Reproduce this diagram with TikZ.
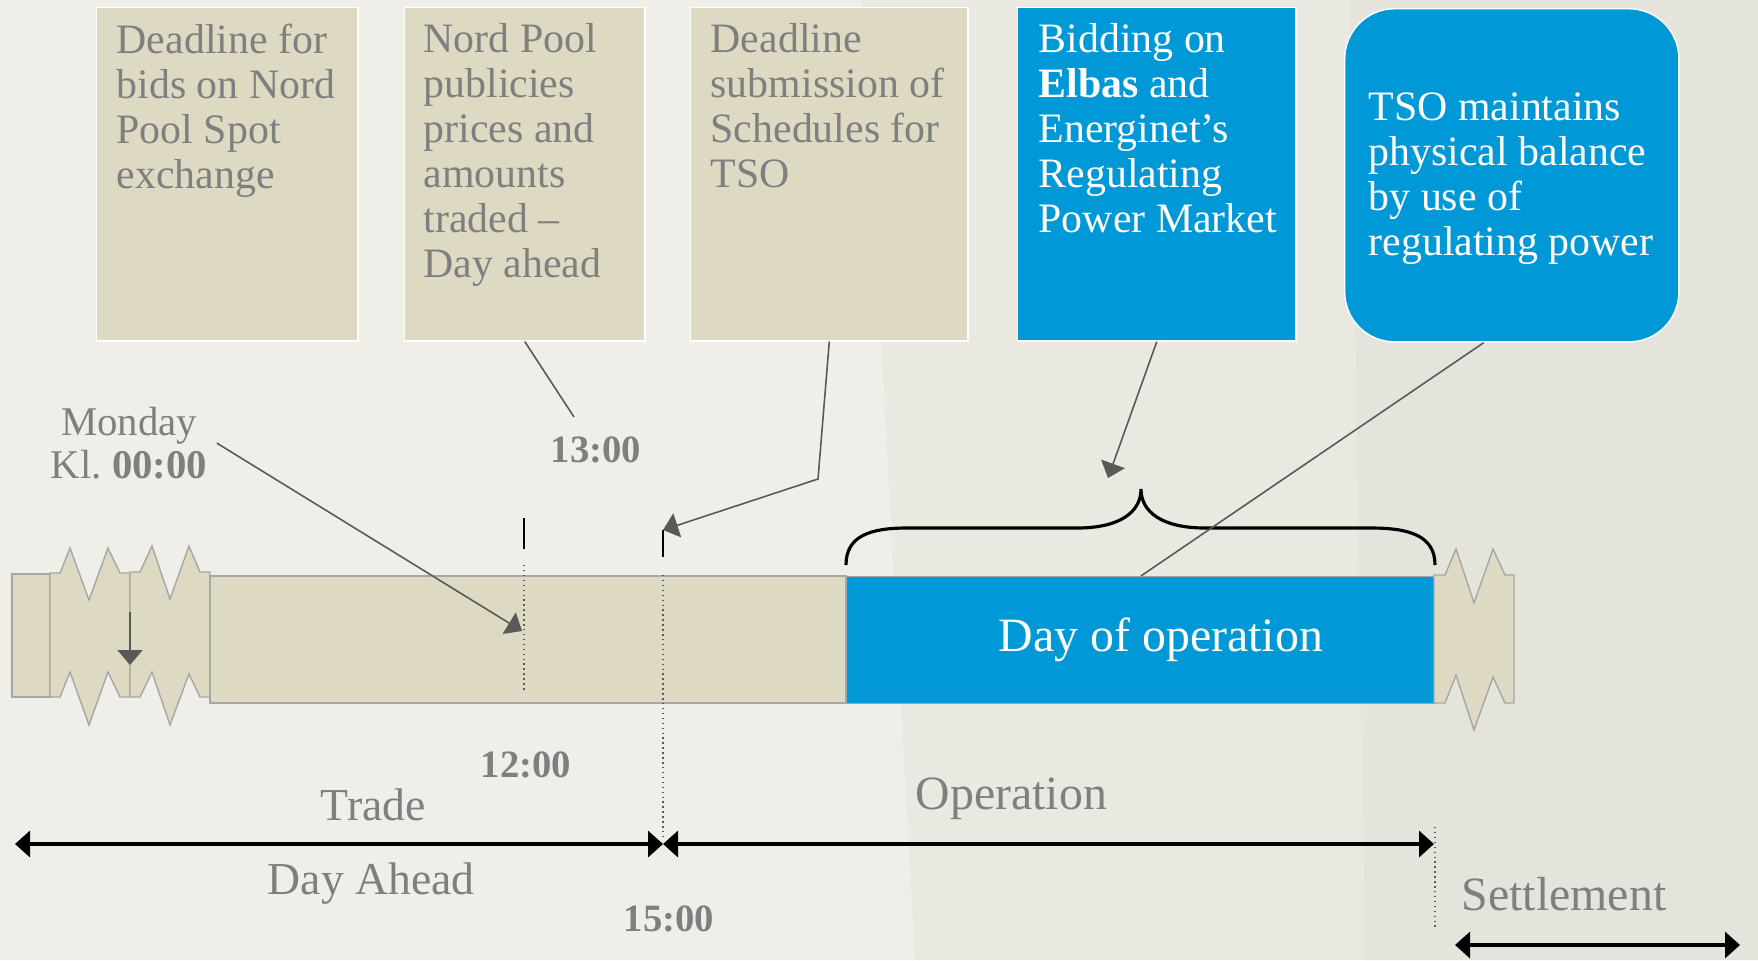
\documentclass[tikz,border=0pt]{standalone}
\usepackage{fontspec}
\setmainfont{Liberation Serif}
\usetikzlibrary{arrows.meta}

\definecolor{boxtan}{HTML}{DDD9C3}
\definecolor{sky}{HTML}{0098D6}
\definecolor{txtgray}{HTML}{7F7F7F}
\definecolor{pointer}{HTML}{595959}
\definecolor{bgleft}{HTML}{EFEEE9}
\definecolor{bgmid}{HTML}{E9E8E1}
\definecolor{bgright}{HTML}{E5E4DC}

\tikzset{
  tanbox/.style = {draw=white, line width=0.4pt, fill=boxtan, anchor=north west,
                   inner sep=0pt, minimum height=3.33cm},
  bluebox/.style = {tanbox, fill=sky},
  boxtext/.style = {anchor=north west, inner sep=0pt, align=left, text=txtgray,
                    font=\fontsize{11.9}{12.8}\selectfont},
  lbl/.style = {inner sep=0pt, anchor=base west, text=txtgray},
  timelbl/.style = {lbl, font=\fontsize{11}{13}\selectfont\bfseries},
  biglbl/.style = {lbl, font=\fontsize{13.6}{16}\selectfont},
  bar/.style = {fill=boxtan, draw=black!35, line width=0.4pt},
  ptr/.style = {draw=pointer, line width=0.45pt, -{Triangle[length=0.15cm,width=0.25cm]}},
  lead/.style = {draw=pointer, line width=0.45pt},
  span/.style = {line width=1pt,
                 {Triangle[length=0.15cm,width=0.26cm]}-{Triangle[length=0.15cm,width=0.26cm]}},
  tick/.style = {line width=0.6pt},
  guide/.style = {draw=pointer, line width=0.4pt, densely dotted},
  brace/.style = {line width=0.9pt}
}

\begin{document}
\begin{tikzpicture}[x=0.01cm, y=-0.01cm]
  % 背景
  \useasboundingbox (0,0) rectangle (1758,960);
  \fill[bgmid] (0,0) rectangle (1758,960);
  \fill[bgleft] (0,0) -- (862,0) -- (915,960) -- (0,960) -- cycle;
  \fill[bgright] (1350,0) -- (1758,0) -- (1758,960) -- (1365,960) -- cycle;

  % 上方说明框
  \node[tanbox, minimum width=2.61cm] (b1) at (96,7) {};
  \node[tanbox, minimum width=2.40cm] (b2) at (404,7) {};
  \node[tanbox, minimum width=2.77cm] (b3) at (690,7) {};
  \node[bluebox, minimum width=2.78cm] (b4) at (1017,7) {};
  \node[bluebox, rounded corners=0.5cm, minimum width=3.34cm] (b5) at (1344,8) {};

  % 框内文字
  \node[boxtext] (t1) at ([shift={(20,16)}]b1.north west)
        {Deadline for\\bids on Nord\\Pool Spot\\exchange};
  \node[boxtext] (t2) at ([shift={(19,16)}]b2.north west)
        {Nord Pool\\publicies\\prices and\\amounts\\traded --\\Day ahead};
  \node[boxtext] (t3) at ([shift={(20,16)}]b3.north west)
        {Deadline\\submission of\\Schedules for\\TSO};
  \node[boxtext, text=white] (t4) at ([shift={(21,16)}]b4.north west)
        {Bidding on\\\textbf{Elbas} and\\Energinet’s\\Regulating\\Power Market};
  \node[boxtext, text=white] (t5) at ([shift={(24,84)}]b5.north west)
        {TSO maintains\\physical balance\\by use of\\regulating power};

  % 时间轴（左侧断开部分）
  \filldraw[bar] (12,574) rectangle (50,697);
  \filldraw[bar] (50,573) -- (60,573) -- (70,548) -- (89,600) -- (108,548) -- (120,573)
    -- (130,573) -- (130,697) -- (120,697) -- (108,672) -- (89,725) -- (70,672)
    -- (60,697) -- (50,697) -- cycle;
  \filldraw[bar] (130,572) -- (140,572) -- (152,546) -- (170,599) -- (189,546) -- (200,572)
    -- (210,572) -- (210,697) -- (200,697) -- (189,674) -- (170,725) -- (152,672)
    -- (140,697) -- (130,697) -- cycle;
  % 时间轴主体
  \filldraw[bar] (210,576) rectangle (846,703);
  \node[fill=sky, draw=black!35, line width=0.4pt, anchor=north west, inner sep=0pt,
        minimum width=5.88cm, minimum height=1.27cm, text=white,
        font=\fontsize{13.6}{16}\selectfont] (ops) at (846,576)
        {\hspace*{0.4cm}Day of operation};
  % 时间轴（右侧断开部分）
  \filldraw[bar] (1434,575) -- (1445,575) -- (1456,549) -- (1474,603) -- (1493,549)
    -- (1505,575) -- (1514,575) -- (1514,703) -- (1505,703) -- (1493,677) -- (1474,730)
    -- (1456,675) -- (1445,703) -- (1434,703) -- cycle;

  % 起点小箭头
  \coordinate (w1) at (130,612);
  \coordinate (w2) at (130,665);
  \draw[ptr, line width=0.7pt] (w1) -- (w2);

  % 刻度与虚线
  \coordinate (k12) at (524,518);
  \coordinate (k15) at (663,530);
  \draw[tick] (k12) -- ++(0,31);
  \draw[tick] (k15) -- ++(0,27);
  \draw[guide] (524,565) -- (524,693);
  \draw[guide] (663,575) -- (663,838);
  \draw[guide] (1435,827) -- (1435,927);

  % 大括号
  \draw[brace] (846,565) .. controls (846,536) and (870,528) .. (907,528) -- (1077,528)
    .. controls (1120,528) and (1141,512) .. (1141,489)
    .. controls (1141,512) and (1162,528) .. (1205,528) -- (1371,528)
    .. controls (1410,528) and (1435,536) .. (1435,565);

  % 标注文字
  \node[lbl, anchor=north, align=center, font=\fontsize{11.6}{12.5}\selectfont] (mon)
        at (129,406) {Monday\\Kl.\ \textbf{00:00}};
  \node[timelbl] (l13) at (550,462) {13:00};
  \node[timelbl] (l12) at (480,777) {12:00};
  \node[timelbl] (l15) at (623,931) {15:00};
  \node[lbl, font=\fontsize{13}{15}\selectfont] (trade) at (320,820) {Trade};
  \node[lbl, font=\fontsize{13}{15}\selectfont] (ahead) at (267,894) {Day Ahead};
  \node[biglbl] (oper) at (915,809) {Operation};
  \node[biglbl] (settle) at (1461,910) {Settlement};

  % 指示线
  \coordinate (a12) at (522,631);
  \coordinate (c13) at (574,417);
  \coordinate (a4) at (1108,478);
  \draw[ptr] ([xshift=0.09cm]mon.east) -- (a12);
  \draw[lead] (b2.south) -- (c13);
  \draw[ptr] (b3.south) -- (818,479) -- (k15);
  \draw[ptr] (b4.south) -- (a4);
  \draw[lead] ([xshift=-0.28cm]b5.south) -- (ops.north);

  % 时段箭头
  \coordinate (s0) at (15,844);
  \coordinate (s1) at (663,844);
  \coordinate (s2) at (1434,844);
  \coordinate (s3) at (1455,945);
  \coordinate (s4) at (1740,945);
  \draw[span] (s0) -- (s1);
  \draw[span] (s1) -- (s2);
  \draw[span] (s3) -- (s4);
\end{tikzpicture}
\end{document}
